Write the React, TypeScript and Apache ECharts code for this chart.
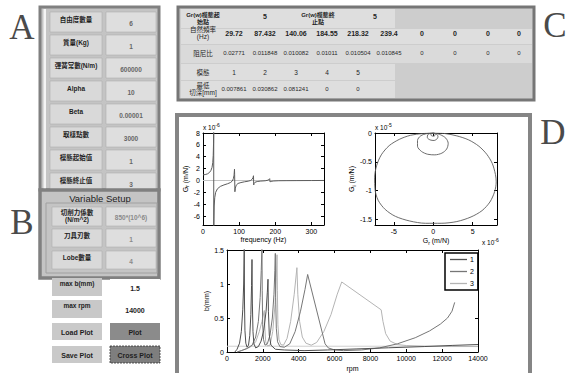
import React, { useEffect, useRef } from "react";
import * as echarts from "echarts";

const SANS = "'Liberation Sans', Arial, 'Noto Sans CJK TC', sans-serif";
const SERIF = "'Liberation Serif', 'DejaVu Serif', serif";

// ---- Panel A: parameters ----
const paramLabels = ["自由度數量", "質量(Kg)", "彈簧常數(N/m)", "Alpha", "Beta", "取樣點數", "模態起始值", "模態終止值"];
const paramValues = ["6", "1", "600000", "10", "0.00001", "3000", "1", "3"];
// ---- Panel B: variable setup ----
const varLabels = ["切削力係數\n(N/m^2)", "刀具刃數", "Lobe數量"];
const varValues = ["850*(10^6)", "1", "4"];
const limitLabels = ["max b(mm)", "max rpm"];
const limitValues = ["1.5", "14000"];
const buttonLabels = ["Load Plot", "Plot", "Save Plot", "Cross Plot"];
// ---- Panel C: modal table ----
const startLabel = "Gr(w)模態起\n始點";
const endLabel = "Gr(w)模態終\n止點";
const startValue = "5";
const endValue = "5";
const rowLabels = ["自然頻率\n(Hz)", "阻尼比", "模態", "最低\n切深[mm]"];
const naturalFreq = ["29.72", "87.432", "140.06", "184.55", "218.32", "239.4", "0", "0", "0", "0"];
const dampingRatio = ["0.02771", "0.011848", "0.010082", "0.01011", "0.010504", "0.010845", "0", "0", "0", "0"];
const modeNumbers = ["1", "2", "3", "4", "5"];
const minDepth = ["0.007861", "0.030862", "0.081241", "0", "0"];

// ---- FRF real part (x1e-6 m/N) ----
const frfFreq = [0, 6, 12, 18, 22, 25, 27, 28.3, 29.2, 29.7, 29.75, 30.2, 31, 32.5, 35, 40, 48, 58, 68, 76, 81, 84, 86, 87.2, 87.6, 88.3, 89.5, 92, 97, 105, 115, 125, 132, 136, 138.5, 139.8, 140.4, 141.5, 144, 150, 160, 172, 180, 183.5, 184.6, 185.6, 188, 196, 210, 230, 260, 300, 335];
const frfReal = [0.95, 1.0, 1.1, 1.35, 1.7, 2.2, 3.0, 4.2, 6.3, 9.5, -9.5, -7.0, -4.3, -2.9, -2.0, -1.4, -1.0, -0.75, -0.55, -0.35, -0.1, 0.3, 0.9, 1.9, 1.0, -1.9, -1.3, -0.8, -0.5, -0.35, -0.22, -0.12, 0.0, 0.2, 0.5, 0.8, -0.75, -0.5, -0.3, -0.18, -0.1, -0.05, 0.05, 0.2, 0.3, -0.25, -0.15, -0.08, -0.04, -0.03, -0.02, -0.01, 0.0];
const zeroFreq = [0, 335];
const zeroVal = [0, 0];

// ---- Nyquist loops (Gr x1e-6, Gi x1e-5) ----
const loop1Re = [0, 1.5, 3, 4.5, 5.8, 6.8, 7.5, 7.9, 8.0, 7.8, 7.2, 6.2, 4.8, 3.0, 1.0, -1.0, -3.0, -4.8, -6.1, -7.0, -7.4, -7.45, -7.2, -6.6, -5.6, -4.3, -2.9, -1.4, 0];
const loop1Im = [0, -0.01, -0.05, -0.12, -0.23, -0.37, -0.53, -0.72, -0.85, -1.02, -1.2, -1.35, -1.46, -1.54, -1.57, -1.57, -1.53, -1.45, -1.33, -1.17, -0.98, -0.78, -0.57, -0.38, -0.22, -0.11, -0.04, -0.01, 0];
const loop2Re = [0, 0.9, 1.6, 1.9, 1.7, 1.1, 0.2, -0.7, -1.5, -2.0, -2.0, -1.6, -0.8, 0];
const loop2Im = [0, -0.03, -0.09, -0.18, -0.28, -0.35, -0.38, -0.37, -0.32, -0.23, -0.13, -0.05, -0.01, 0];
const loop3Re = [0, 0.4, 0.6, 0.5, 0.1, -0.4, -0.75, -0.7, -0.35, 0];
const loop3Im = [0, -0.02, -0.06, -0.1, -0.13, -0.12, -0.08, -0.03, -0.005, 0];
const loop4Re = [0, 0.2, 0.25, 0.05, -0.2, -0.3, -0.15, 0];
const loop4Im = [0, -0.01, -0.035, -0.055, -0.05, -0.025, -0.005, 0];

// ---- Stability lobes ----
const lobe1Rpm = [440, 560, 700, 800, 880, 930, 962, 975, 1000, 1050, 1120, 1200, 1270, 1330, 1370, 1394, 1415, 1450, 1500, 1600, 1750, 1900, 2050, 2180, 2250, 2286, 2310, 2360, 2450, 2700, 3200, 4300, 5600, 7200, 9000, 11000, 12600, 14000];
const lobe1B = [0.0, 0.04, 0.13, 0.3, 0.62, 1.0, 1.55, 0.75, 0.32, 0.13, 0.07, 0.1, 0.24, 0.55, 0.98, 1.36, 0.72, 0.3, 0.12, 0.06, 0.08, 0.16, 0.32, 0.6, 0.88, 1.07, 0.6, 0.25, 0.1, 0.04, 0.03, 0.02, 0.03, 0.045, 0.062, 0.08, 0.097, 0.11];
const lobe2Rpm = [560, 800, 1100, 1400, 1600, 1750, 1850, 1910, 1950, 1965, 1990, 2040, 2120, 2250, 2400, 2530, 2620, 2670, 2695, 2715, 2750, 2820, 2950, 3200, 3500, 3800, 4100, 4350, 4498, 5470, 5650, 6000, 6500, 7500, 8500, 9500, 10500, 11300, 11900, 12300, 12550, 12700];
const lobe2B = [0.0, 0.02, 0.05, 0.1, 0.22, 0.45, 0.8, 1.2, 1.55, 0.9, 0.4, 0.18, 0.1, 0.12, 0.25, 0.5, 0.85, 1.2, 1.45, 0.8, 0.35, 0.15, 0.08, 0.07, 0.12, 0.3, 0.6, 0.92, 1.14, 0.12, 0.06, 0.03, 0.02, 0.03, 0.06, 0.12, 0.21, 0.31, 0.41, 0.5, 0.6, 0.73];
const lobe3Rpm = [600, 900, 1300, 1600, 1800, 1950, 2080, 2110, 2160, 2250, 2400, 2550, 2680, 2750, 2790, 2810, 2840, 2900, 3000, 3150, 3350, 3550, 3750, 3900, 3950, 4050, 4200, 4400, 4700, 5000, 5400, 5800, 6150, 6400, 8600, 8700, 8850, 9100, 9500, 10000, 11000, 12500, 14000];
const lobe3B = [0.0, 0.03, 0.07, 0.15, 0.3, 0.45, 0.61, 0.35, 0.15, 0.09, 0.1, 0.3, 0.7, 1.1, 1.43, 0.9, 0.4, 0.18, 0.11, 0.1, 0.2, 0.45, 0.85, 1.24, 0.85, 0.45, 0.22, 0.13, 0.1, 0.14, 0.3, 0.55, 0.85, 1.03, 0.62, 0.45, 0.27, 0.16, 0.11, 0.095, 0.085, 0.08, 0.08];
const limitRpm = [0, 14000];
const limitB = [0.085, 0.085];
const lobeNames = ["1", "2", "3"];
const lobeColors = ["#4f4f4f", "#767676", "#b4b4b4"];

const zip = (a: number[], b: number[]) => a.map((v, i) => [v, b[i]]);

const rect = (x: number, y: number, w: number, h: number, fill: string | null, stroke?: string, lw?: number, extra: any = {}) => ({
  type: "rect",
  silent: true,
  shape: { x, y, width: w, height: h },
  style: { fill: fill || "none", stroke: stroke || "none", lineWidth: lw || 0, ...extra },
});
const txt = (x: number, y: number, text: string, size: number, color: string, weight = "normal", align = "center", family = SANS, extra: any = {}) => ({
  type: "text",
  silent: true,
  x,
  y,
  style: { text, fontSize: size, fill: color, fontWeight: weight, fontFamily: family, align, verticalAlign: "middle", lineHeight: size + 1, ...extra },
});

const plain = (v: number) => String(v);

function axis(gridIndex: number, position: string, min: number, max: number, showLabel: boolean, interval?: number, custom?: number[], name?: string, nameGap?: number, nameRotate?: number, hideMax?: boolean) {
  const a: any = {
    type: "value",
    gridIndex,
    position,
    min,
    max,
    axisLine: { show: true, onZero: false, lineStyle: { color: "#000", width: 1 } },
    axisTick: { show: true, inside: true, length: 3, lineStyle: { color: "#000", width: 1 } },
    axisLabel: { show: showLabel, fontSize: 7, color: "#000", margin: 3, fontFamily: SANS, formatter: plain, showMaxLabel: hideMax ? false : undefined },
    splitLine: { show: false },
  };
  if (interval !== undefined) a.interval = interval;
  if (custom) {
    a.axisTick.customValues = custom;
    a.axisLabel.customValues = custom;
  }
  if (name) {
    a.name = name;
    a.nameLocation = "middle";
    a.nameGap = nameGap;
    a.nameRotate = nameRotate;
    a.nameTextStyle = {
      fontSize: 7,
      color: "#000",
      fontFamily: SANS,
      rich: { s: { fontSize: 5, padding: [4, 0, 0, 0], color: "#000", fontFamily: SANS } },
    };
  }
  return a;
}

function buildOption(): any {
  const g: any[] = [];
  // letters
  g.push(txt(22, 27, "A", 35, "#4a4a4a", "normal", "center", SERIF));
  g.push(txt(22, 222, "B", 35, "#4a4a4a", "normal", "center", SERIF));
  g.push(txt(555, 25, "C", 35, "#4a4a4a", "normal", "center", SERIF));
  g.push(txt(553, 132, "D", 35, "#4a4a4a", "normal", "center", SERIF));

  // Panel A
  g.push(rect(40, 7, 119, 183, "#c4c4c4", "#808080", 3));
  g.push(rect(43.5, 9, 2.5, 180, "#f4f4f4"));
  paramLabels.forEach((lab, i) => {
    const top = 12 + i * 23;
    g.push(rect(50, top, 52, 20, "#d9d9d9", "#b0b0b0", 0.6));
    g.push(rect(106, top, 50, 20, "#dedede", "#b0b0b0", 0.6));
    g.push(txt(76, top + 7, lab, 6.5, "#1e1e1e", "bold"));
    g.push(txt(131, top + 11, paramValues[i], 6.5, "#666", "bold"));
  });

  // Panel B
  g.push(rect(40, 190, 119, 88, "#c4c4c4", "#808080", 3.5));
  g.push(txt(100, 198, "Variable Setup", 9.5, "#222"));
  g.push(rect(46, 203, 111, 70, null, "#a0a0a0", 1));
  const bTops = [207, 229, 251];
  const bH = [19, 18, 18];
  varLabels.forEach((lab, i) => {
    g.push(rect(52, bTops[i], 50, bH[i], "#d9d9d9", "#b0b0b0", 0.6));
    g.push(rect(106, bTops[i], 50, bH[i], "#dedede", "#b0b0b0", 0.6));
    g.push(txt(77, bTops[i] + (i === 0 ? 9 : 6), lab, 6.5, "#1e1e1e", "bold"));
    g.push(txt(131, bTops[i] + 10, varValues[i], 6.5, "#8a8a8a", "bold"));
  });

  // limits
  const lTops = [278, 300];
  limitLabels.forEach((lab, i) => {
    g.push(rect(52, lTops[i], 50, 18, "#c8c8c8"));
    g.push(rect(110, lTops[i] + 1, 50, 18, "#ffffff"));
    g.push(txt(77, lTops[i] + 5, lab, 6.5, "#1e1e1e", "bold"));
    g.push(txt(135, lTops[i] + 10, limitValues[i], 7, "#1e1e1e", "bold"));
  });
  // buttons
  const btTops = [323, 346];
  g.push(rect(52, btTops[0], 50, 17, "#c9c9c9"));
  g.push(rect(110, btTops[0], 50, 17, "#8b8b8b"));
  g.push(rect(52, btTops[1], 50, 17, "#c9c9c9"));
  g.push(rect(110, btTops[1], 50, 17, "#7e7e7e", "#333", 0.8, { lineDash: [2, 1] }));
  g.push(txt(77, btTops[0] + 9, buttonLabels[0], 7, "#1e1e1e", "bold"));
  g.push(txt(135, btTops[0] + 9, buttonLabels[1], 7, "#1e1e1e", "bold"));
  g.push(txt(77, btTops[1] + 9, buttonLabels[2], 7, "#1e1e1e", "bold"));
  g.push(txt(135, btTops[1] + 9, buttonLabels[3], 7, "#1e1e1e", "bold"));

  // Panel C
  g.push(rect(178, 7, 356, 93, "#cdcdcd", "#767676", 3));
  const cLab = 203;
  const cols = [234, 265, 296, 327, 358, 389, 422, 455, 488, 519];
  const rowsY = [18, 33, 53, 72, 89];
  g.push(rect(181, 9, 214, 19, "#dedede"));
  g.push(rect(181, 29, 351, 15, "#dedede"));
  g.push(rect(181, 45, 351, 18, "#dadada"));
  g.push(rect(181, 64, 214, 16, "#dedede"));
  g.push(rect(181, 81, 214, 17, "#dedede"));
  g.push(txt(cLab, rowsY[0], startLabel, 6, "#1e1e1e", "bold", "center", SANS, { lineHeight: 7 }));
  g.push(txt(265, rowsY[0] - 2, startValue, 7, "#1e1e1e", "bold"));
  g.push(txt(318, rowsY[0], endLabel, 6, "#1e1e1e", "bold", "center", SANS, { lineHeight: 7 }));
  g.push(txt(375, rowsY[0] - 2, endValue, 7, "#1e1e1e", "bold"));
  rowLabels.forEach((lab, i) => {
    g.push(txt(cLab, rowsY[i + 1], lab, 6.5, "#1e1e1e", "normal", "center", SANS, { lineHeight: 7.5 }));
  });
  naturalFreq.forEach((v, i) => g.push(txt(cols[i], rowsY[1], v, 7, "#1e1e1e", "bold")));
  dampingRatio.forEach((v, i) => g.push(txt(cols[i], rowsY[2], v, 6, "#2a2a2a")));
  modeNumbers.forEach((v, i) => g.push(txt(cols[i], rowsY[3], v, 6.5, "#1e1e1e")));
  minDepth.forEach((v, i) => g.push(txt(cols[i], rowsY[4], v, 6, "#2a2a2a")));

  // Panel D frame
  g.push(rect(177, 115, 353, 270, null, "#858585", 4));

  // exponent labels
  const supRich = { p: { fontSize: 5, padding: [0, 0, 5, 0], fill: "#000", fontFamily: SANS } };
  g.push({ type: "text", silent: true, x: 203, y: 127, style: { text: "x 10{p|-6}", fontSize: 6.5, fill: "#000", fontFamily: SANS, align: "left", verticalAlign: "middle", rich: supRich } });
  g.push({ type: "text", silent: true, x: 375, y: 127, style: { text: "x 10{p|-5}", fontSize: 6.5, fill: "#000", fontFamily: SANS, align: "left", verticalAlign: "middle", rich: supRich } });
  g.push({ type: "text", silent: true, x: 482, y: 242, style: { text: "x 10{p|-6}", fontSize: 6.5, fill: "#000", fontFamily: SANS, align: "left", verticalAlign: "middle", rich: supRich } });

  const series: any[] = [
    { type: "line", xAxisIndex: 0, yAxisIndex: 0, data: zip(zeroFreq, zeroVal), showSymbol: false, lineStyle: { color: "#c4c4c4", width: 1.2 } },
    { type: "line", xAxisIndex: 0, yAxisIndex: 0, data: zip(frfFreq, frfReal), showSymbol: false, lineStyle: { color: "#5c5c5c", width: 1 } },
    { type: "line", xAxisIndex: 2, yAxisIndex: 2, data: zip(loop1Re, loop1Im), showSymbol: false, smooth: 0.3, lineStyle: { color: "#5c5c5c", width: 0.9 } },
    { type: "line", xAxisIndex: 2, yAxisIndex: 2, data: zip(loop2Re, loop2Im), showSymbol: false, smooth: 0.3, lineStyle: { color: "#5c5c5c", width: 0.9 } },
    { type: "line", xAxisIndex: 2, yAxisIndex: 2, data: zip(loop3Re, loop3Im), showSymbol: false, smooth: 0.3, lineStyle: { color: "#5c5c5c", width: 0.9 } },
    { type: "line", xAxisIndex: 2, yAxisIndex: 2, data: zip(loop4Re, loop4Im), showSymbol: false, smooth: 0.3, lineStyle: { color: "#5c5c5c", width: 0.9 } },
    { type: "line", xAxisIndex: 4, yAxisIndex: 4, data: zip(limitRpm, limitB), showSymbol: false, lineStyle: { color: "#cfcfcf", width: 1 } },
    { type: "line", name: lobeNames[2], color: lobeColors[2], xAxisIndex: 4, yAxisIndex: 4, data: zip(lobe3Rpm, lobe3B), showSymbol: false, lineStyle: { color: lobeColors[2], width: 1 } },
    { type: "line", name: lobeNames[1], color: lobeColors[1], xAxisIndex: 4, yAxisIndex: 4, data: zip(lobe2Rpm, lobe2B), showSymbol: false, lineStyle: { color: lobeColors[1], width: 1 } },
    { type: "line", name: lobeNames[0], color: lobeColors[0], xAxisIndex: 4, yAxisIndex: 4, data: zip(lobe1Rpm, lobe1B), showSymbol: false, lineStyle: { color: lobeColors[0], width: 1 } },
  ];

  return {
    animation: false,
    backgroundColor: "#ffffff",
    grid: [
      { left: 203, top: 133, width: 121, height: 92 },
      { left: 375, top: 133, width: 122, height: 92 },
      { left: 227, top: 250, width: 251, height: 104 },
    ],
    xAxis: [
      axis(0, "bottom", 0, 335, true, 100, undefined, "frequency (Hz)", 11, undefined, true),
      axis(0, "top", 0, 335, false, 100),
      axis(1, "bottom", -7.4, 8.1, true, undefined, [-5, 0, 5], "G{s|r} (m/N)", 11),
      axis(1, "top", -7.4, 8.1, false, undefined, [-5, 0, 5]),
      axis(2, "bottom", 0, 14000, true, 2000, undefined, "rpm", 13),
      axis(2, "top", 0, 14000, false, 2000),
    ],
    yAxis: [
      axis(0, "left", -7.5, 8, true, undefined, [-6, -4, -2, 0, 2, 4, 6, 8], "G{s|r} (m/N)", 11, 90),
      axis(0, "right", -7.5, 8, false, undefined, [-6, -4, -2, 0, 2, 4, 6, 8]),
      axis(1, "left", -1.6, 0, true, undefined, [-1.5, -1, -0.5, 0], "G{s|i} (m/N)", 15, 90),
      axis(1, "right", -1.6, 0, false, undefined, [-1.5, -1, -0.5, 0]),
      axis(2, "left", 0, 1.5, true, 0.5, undefined, "b(mm)", 15, 90),
      axis(2, "right", 0, 1.5, false, 0.5),
    ],
    legend: {
      data: lobeNames,
      orient: "vertical",
      left: 445,
      top: 253,
      icon: "rect",
      itemWidth: 17,
      itemHeight: 1.3,
      itemGap: 5,
      padding: [3, 4, 3, 5],
      borderColor: "#000",
      borderWidth: 1.5,
      backgroundColor: "#fff",
      textStyle: { fontSize: 7, color: "#000", fontFamily: SANS, padding: [0, 0, 0, -2] },
    },
    graphic: g,
    series,
  };
}

export default function App() {
  const ref = useRef<HTMLDivElement>(null);
  useEffect(() => {
    const chart = echarts.init(ref.current as HTMLDivElement, null, { renderer: "svg" });
    chart.setOption(buildOption());
    return () => chart.dispose();
  }, []);
  return <div ref={ref} style={{ position: "fixed", left: 0, top: 0, width: 571, height: 373, background: "#fff" }} />;
}
